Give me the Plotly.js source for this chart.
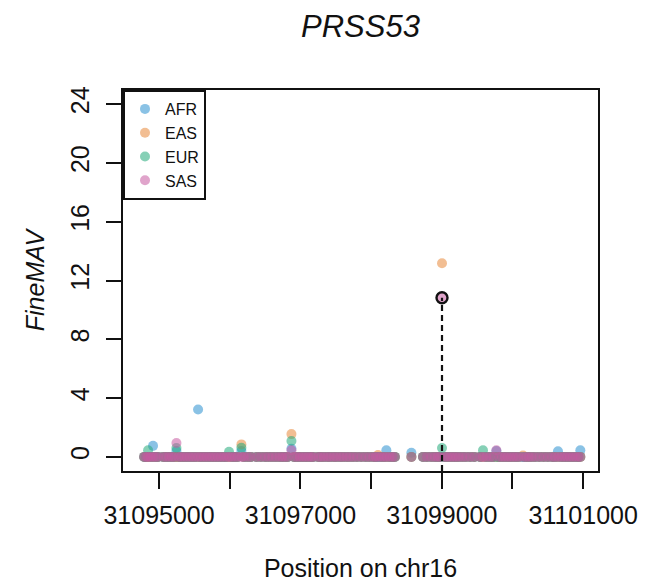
<!DOCTYPE html>
<html>
<head>
<meta charset="utf-8">
<script src="https://cdn.plot.ly/plotly-3.0.1.min.js"></script>
<style>
html,body{margin:0;padding:0;background:#fff;}
#chart{width:646px;height:584px;}
</style>
</head>
<body>
<div id="chart"></div>
<script>
// SNP positions on chr16 (bp)
const snpPos = [
  31094790, 31094820, 31094845, 31094880, 31094915, 31094950, 31094985,
  31095060, 31095100, 31095140, 31095180, 31095215, 31095246, 31095275,
  31095310, 31095350, 31095390, 31095430, 31095470, 31095510, 31095552, 31095590,
  31095630, 31095670, 31095710, 31095750, 31095790, 31095830, 31095870, 31095910,
  31095950, 31095990, 31096030, 31096070, 31096110, 31096165, 31096200, 31096250, 31096300,
  31096380, 31096440, 31096500, 31096550, 31096600, 31096650, 31096700, 31096740,
  31096780, 31096820, 31096873, 31096910, 31096950, 31096990, 31097030, 31097070,
  31097110, 31097150, 31097180,
  31097250, 31097290, 31097330, 31097380, 31097420, 31097470, 31097510, 31097560,
  31097600, 31097650, 31097695,
  31097745, 31097800, 31097860, 31097920, 31097975,
  31098030, 31098065, 31098098, 31098140, 31098180, 31098216, 31098260, 31098300, 31098335,
  31098570,
  31098735, 31098790, 31098850, 31098900, 31098940, 31098975, 31099003, 31099040,
  31099080, 31099120, 31099160, 31099200, 31099240, 31099290, 31099340, 31099400, 31099460,
  31099540, 31099583, 31099630, 31099680, 31099725, 31099772, 31099810, 31099850,
  31099890, 31099930, 31099970, 31100010, 31100050, 31100090, 31100149, 31100190,
  31100230, 31100270, 31100320, 31100380, 31100440, 31100500, 31100560, 31100600,
  31100644, 31100690, 31100730, 31100770, 31100810, 31100850, 31100890, 31100930, 31100960
];

// Non-zero FineMAV scores per population (all other SNPs score 0)
const afrPeakPos = [31094915, 31095246, 31095552, 31096165, 31096873, 31098216, 31098570, 31099772, 31100644, 31100960];
const afrPeakVal = [0.75, 0.4, 3.22, 0.4, 0.55, 0.45, 0.28, 0.4, 0.38, 0.45];
const easPeakPos = [31096165, 31096873, 31098098, 31099003, 31100149];
const easPeakVal = [0.85, 1.55, 0.12, 13.17, 0.1];
const eurPeakPos = [31094845, 31095246, 31095990, 31096165, 31096873, 31099003, 31099583];
const eurPeakVal = [0.45, 0.6, 0.35, 0.62, 1.08, 0.6, 0.45];
const sasPeakPos = [31095246, 31096873, 31099003, 31099772];
const sasPeakVal = [0.95, 0.45, 10.83, 0.45];

// Lead variant (highlighted)
const leadPos = [31099003];
const leadVal = [10.83];

const popNames = ['AFR', 'EAS', 'EUR', 'SAS'];
const popColors = ['#2A8FD0', '#E8893A', '#22A97A', '#C65AA0'];

const xTickVals = [31095000, 31096000, 31097000, 31098000, 31099000, 31100000, 31101000];
const xTickText = ['31095000', '', '31097000', '', '31099000', '', '31101000'];
const yTickVals = [0, 4, 8, 12, 16, 20, 24];

const xRange = [31094490, 31101210];
const yRange = [-0.96, 24.96];

function scores(peakPos, peakVal) {
  return snpPos.map(p => {
    const i = peakPos.indexOf(p);
    return i >= 0 ? peakVal[i] : 0;
  });
}
const popPeaks = [[afrPeakPos, afrPeakVal], [easPeakPos, easPeakVal], [eurPeakPos, eurPeakVal], [sasPeakPos, sasPeakVal]];

const traces = popNames.map((name, k) => ({
  type: 'scatter', mode: 'markers', name: name,
  x: snpPos, y: scores(popPeaks[k][0], popPeaks[k][1]),
  marker: {color: popColors[k], size: 10, opacity: 0.55, line: {width: 0}},
  cliponaxis: false
}));

traces.push({
  type: 'scatter', mode: 'lines', showlegend: false,
  x: [leadPos[0], leadPos[0]], y: [yRange[0], leadVal[0]],
  line: {color: '#111', width: 2.2, dash: '6px,4px'}
});
traces.push({
  type: 'scatter', mode: 'markers', showlegend: false,
  x: leadPos, y: leadVal,
  marker: {symbol: 'circle-open', color: '#111', size: 11, line: {width: 2.4, color: '#111'}}
});

const font = 'Liberation Sans, Arial, Helvetica, sans-serif';
const layout = {
  width: 646, height: 584,
  margin: {l: 123, r: 48, t: 90, b: 113},
  paper_bgcolor: '#fff', plot_bgcolor: '#fff',
  font: {family: font, color: '#111'},
  title: {text: '<i>PRSS53</i>', font: {family: font, size: 31, color: '#111'},
          x: 0.5, xref: 'paper', xanchor: 'center', y: 0.956, yanchor: 'middle'},
  xaxis: {
    range: xRange, tickmode: 'array', tickvals: xTickVals, ticktext: xTickText,
    ticks: 'outside', ticklen: 16, tickwidth: 2, tickcolor: '#111',
    showline: true, linewidth: 2, linecolor: '#111', mirror: true,
    showgrid: false, zeroline: false, ticklabelstandoff: 5,
    tickfont: {family: font, size: 25, color: '#111'},
    title: {text: 'Position on chr16', font: {family: font, size: 25, color: '#111'}, standoff: 31}
  },
  yaxis: {
    range: yRange, tickmode: 'array', tickvals: yTickVals,
    ticks: 'outside', ticklen: 15, tickwidth: 2, tickcolor: '#111',
    showline: true, linewidth: 2, linecolor: '#111', mirror: true,
    showgrid: false, zeroline: false, tickangle: -90, ticklabelstandoff: 7,
    tickfont: {family: font, size: 25, color: '#111'},
    title: {text: '<i>FineMAV</i>', font: {family: font, size: 25, color: '#111'}, standoff: 14}
  },
  showlegend: true,
  legend: {
    x: 0, y: 1, xanchor: 'left', yanchor: 'top',
    bgcolor: '#fff', bordercolor: '#111', borderwidth: 2,
    font: {family: font, size: 16, color: '#111'},
    itemwidth: 30, tracegroupgap: 0
  }
};

Plotly.newPlot('chart', traces, layout, {displayModeBar: false, staticPlot: true});
</script>
</body>
</html>
